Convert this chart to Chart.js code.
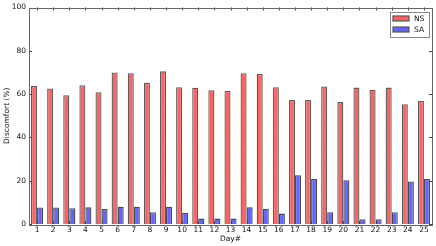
<!DOCTYPE html>
<html>
<head>
<meta charset="utf-8">
<script src="https://cdn.jsdelivr.net/npm/chart.js@4.4.1/dist/chart.umd.min.js"></script>
<style>
  html, body { margin: 0; padding: 0; background: #fff; }
  #wrap { width: 436px; height: 246px; }
</style>
</head>
<body>
<div id="wrap"><canvas id="c" width="436" height="246"></canvas></div>
<script>
const days = ['1','2','3','4','5','6','7','8','9','10','11','12','13','14','15','16','17','18','19','20','21','22','23','24','25'];
const nsValues = [63.7, 62.6, 59.5, 64.1, 60.9, 70.0, 69.6, 65.2, 70.5, 63.2, 62.9, 61.8, 61.5,
                  69.6, 69.3, 63.2, 57.3, 57.3, 63.5, 56.3, 63.0, 62.0, 63.0, 55.3, 56.8];
const saValues = [7.6, 7.6, 7.3, 7.7, 6.9, 8.0, 8.0, 5.4, 8.0, 5.2, 2.5, 2.5, 2.5,
                  7.7, 7.1, 4.8, 22.5, 20.8, 5.4, 20.2, 2.2, 2.2, 5.4, 19.6, 20.8];
const yTicks = [0, 20, 40, 60, 80, 100];

const FONT = 'DejaVu Sans';
const FS = 7.5;

// dotted hatch for the NS bars
function dotPattern() {
    const p = document.createElement('canvas');
    p.width = 5; p.height = 5;
    const g = p.getContext('2d');
    g.fillStyle = '#ff6464';
    g.fillRect(0, 0, 5, 5);
    g.fillStyle = '#e45a5a';
    g.fillRect(1, 1, 1, 1);
    g.fillRect(3, 3, 1, 1);
    return g.createPattern(p, 'repeat');
}
const nsFill = dotPattern();

// box, inward ticks on all four sides, legend inside upper right
const frame = {
    id: 'frame',
    afterDatasetsDraw(chart) {
        const { ctx, chartArea: a, scales: { x, y } } = chart;
        ctx.save();
        ctx.strokeStyle = '#444';
        ctx.lineWidth = 1;
        ctx.beginPath();
        days.forEach((d, i) => {
            const px = Math.round(x.getPixelForValue(i)) + 0.5;
            ctx.moveTo(px, a.bottom); ctx.lineTo(px, a.bottom - 3);
            ctx.moveTo(px, a.top); ctx.lineTo(px, a.top + 3);
        });
        yTicks.forEach(v => {
            const py = Math.round(y.getPixelForValue(v)) + 0.5;
            ctx.moveTo(a.left, py); ctx.lineTo(a.left + 3, py);
            ctx.moveTo(a.right, py); ctx.lineTo(a.right - 3, py);
        });
        ctx.stroke();
        ctx.strokeStyle = '#666';
        ctx.strokeRect(Math.round(a.left) + 0.5, Math.round(a.top) + 0.5,
                       Math.round(a.right - a.left), Math.round(a.bottom - a.top));

        // legend
        const bx = Math.round(a.right) - 42, by = Math.round(a.top) + 4, bw = 39, bh = 25;
        ctx.fillStyle = '#fff';
        ctx.fillRect(bx, by, bw, bh);
        ctx.strokeStyle = '#888';
        ctx.strokeRect(bx + 0.5, by + 0.5, bw, bh);
        chart.data.datasets.forEach((ds, i) => {
            const ry = by + 4 + i * 11;
            ctx.fillStyle = ds.backgroundColor;
            ctx.fillRect(bx + 3, ry, 16, 5);
            ctx.strokeStyle = '#555';
            ctx.lineWidth = 1.2;
            ctx.strokeRect(bx + 3, ry, 16, 5);
            ctx.fillStyle = '#111';
            ctx.font = FS + 'px ' + FONT;
            ctx.textBaseline = 'middle';
            ctx.textAlign = 'left';
            ctx.fillText(ds.label, bx + 24, ry + 3);
        });
        ctx.restore();
    }
};

new Chart(document.getElementById('c'), {
    type: 'bar',
    data: {
        labels: days,
        datasets: [
            { label: 'NS', data: nsValues, backgroundColor: nsFill,
              borderColor: '#5c5c5c', borderWidth: 1.3 },
            { label: 'SA', data: saValues, backgroundColor: '#6464ff',
              borderColor: '#4a4a4a', borderWidth: 1.3 }
        ]
    },
    options: {
        responsive: false,
        animation: false,
        devicePixelRatio: 1,
        layout: { padding: { top: 6, right: 4, left: 0, bottom: 0 } },
        categoryPercentage: 0.75,
        barPercentage: 1.0,
        plugins: { legend: { display: false }, tooltip: { enabled: false } },
        scales: {
            x: {
                offset: true,
                grid: { display: false, drawTicks: false, tickLength: 0 },
                border: { display: false },
                ticks: { color: '#111', font: { family: FONT, size: FS }, padding: 2, maxRotation: 0, autoSkip: false },
                title: { display: true, text: 'Day#', color: '#111', font: { family: FONT, size: FS }, padding: { top: 0, bottom: 2 } },
                afterFit(s) { s.height = 22; }
            },
            y: {
                min: 0, max: 100,
                grid: { display: false, drawTicks: false, tickLength: 0 },
                border: { display: false },
                ticks: { stepSize: 20, color: '#111', font: { family: FONT, size: FS }, padding: 3 },
                title: { display: true, text: 'Discomfort (%)', color: '#111', font: { family: FONT, size: FS }, padding: { top: 3, bottom: 0 } },
                afterFit(s) { s.width = 29; }
            }
        }
    },
    plugins: [frame]
});
</script>
</body>
</html>
